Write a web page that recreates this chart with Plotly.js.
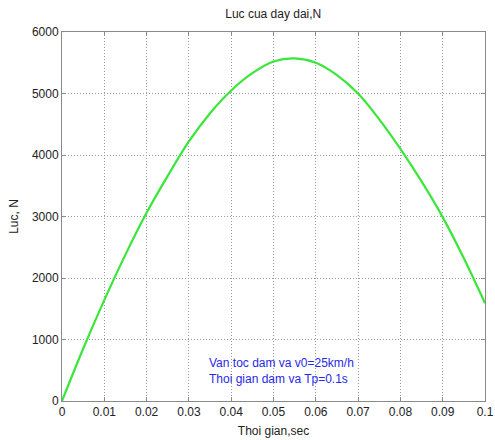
<!DOCTYPE html>
<html>
<head>
<meta charset="utf-8">
<script src="https://cdn.plot.ly/plotly-3.0.1.min.js"></script>
<style>html,body{margin:0;padding:0;background:#fff;}#chart{width:495px;height:440px;}</style>
</head>
<body>
<div id="chart"></div>
<script>
var timeSec = [0, 0.005, 0.01, 0.015, 0.02, 0.025, 0.03, 0.035, 0.04, 0.045, 0.05, 0.055, 0.06, 0.065, 0.07, 0.075, 0.08, 0.085, 0.09, 0.095, 0.1];
var forceN = [0, 850, 1640, 2380, 3060, 3660, 4220, 4680, 5050, 5330, 5520, 5570, 5500, 5300, 5000, 4580, 4100, 3570, 2990, 2320, 1590];
var xTicks = [0, 0.01, 0.02, 0.03, 0.04, 0.05, 0.06, 0.07, 0.08, 0.09, 0.1];
var xTickText = ['0', '0.01', '0.02', '0.03', '0.04', '0.05', '0.06', '0.07', '0.08', '0.09', '0.1'];
var yTicks = [0, 1000, 2000, 3000, 4000, 5000, 6000];
var noteLines = ['Van toc dam va v0=25km/h', 'Thoi gian dam va Tp=0.1s'];

var font = {family: 'Liberation Sans, Arial, sans-serif', size: 12, color: '#222'};

var trace = {
  x: timeSec, y: forceN, type: 'scatter', mode: 'lines',
  line: {color: '#3ae63a', width: 2.2, shape: 'spline', smoothing: 1},
  hoverinfo: 'skip'
};

var axisCommon = {
  showline: true, mirror: 'ticks', linecolor: '#8a8a8a', linewidth: 1,
  showgrid: true, gridcolor: '#9a9a9a', griddash: '1px,2px', gridwidth: 1,
  ticks: 'inside', ticklen: 4, tickcolor: '#8a8a8a',
  zeroline: false, tickfont: font
};

var layout = {
  width: 495, height: 440,
  margin: {l: 62, r: 10, t: 32, b: 39},
  paper_bgcolor: '#fff', plot_bgcolor: '#fff',
  font: font,
  showlegend: false,
  title: {text: 'Luc cua day dai,N', font: {family: font.family, size: 12, color: '#222'}, x: 0.552, xanchor: 'center', y: 0.968, yanchor: 'middle'},
  xaxis: Object.assign({}, axisCommon, {
    range: [0, 0.1], tickvals: xTicks, ticktext: xTickText,
    title: {text: 'Thoi gian,sec', font: font, standoff: 8}
  }),
  yaxis: Object.assign({}, axisCommon, {
    range: [0, 6000], tickvals: yTicks, tickformat: 'd',
    title: {text: 'Luc, N', font: font, standoff: 10}
  }),
  annotations: [{
    x: 0.0343, y: 490, xref: 'x', yref: 'y', xanchor: 'left', yanchor: 'middle',
    text: noteLines.join('<br>'), align: 'left', showarrow: false,
    font: {family: font.family, size: 12, color: '#2828e8'}
  }]
};

Plotly.newPlot('chart', [trace], layout, {displayModeBar: false, staticPlot: true});
</script>
</body>
</html>
